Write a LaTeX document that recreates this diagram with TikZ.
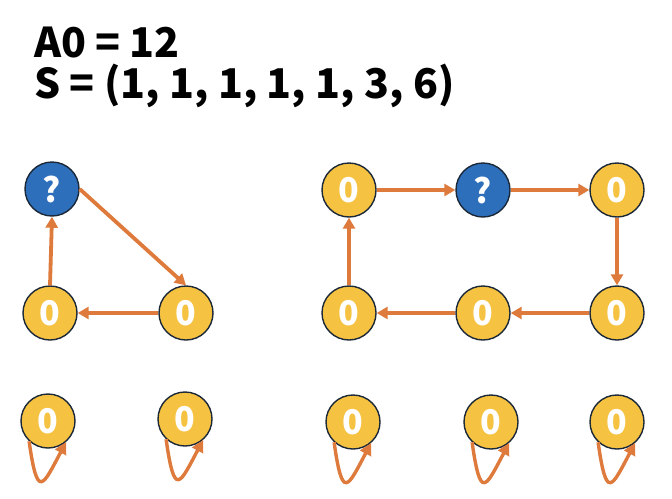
\documentclass[tikz,border=0pt]{standalone}
\usepackage{fontspec}
\setmainfont{Noto Sans CJK JP}
\usetikzlibrary{arrows.meta}
\definecolor{nodeyellow}{HTML}{F5C242}
\definecolor{nodeblue}{HTML}{2E6FBC}
\definecolor{edgeorange}{HTML}{DD7A3C}
\definecolor{rimnavy}{HTML}{1B2838}
\tikzset{
  zero/.style={circle, minimum size=54pt, inner sep=0pt, draw=rimnavy, line width=1.4pt,
    fill=nodeyellow, text=white, font=\fontsize{34}{34}\selectfont\bfseries},
  unknown/.style={zero, fill=nodeblue},
  title/.style={anchor=base west, inner sep=0pt, font=\fontsize{41}{41}\selectfont\bfseries},
  arr/.style={draw=edgeorange, line width=3.8pt, -{Triangle[length=11pt,width=12pt]}},
  selfloop/.style={arr, line width=3.4pt, -{Triangle[length=12pt,width=12pt]}}
}
\begin{document}
\begin{tikzpicture}[x=1pt, y=-1pt]
    \useasboundingbox (0,0) rectangle (672,498);
    \node[title] (a0) at (34,57) {A0 = 12};
    \node[title] (s) at (34,98) {S = (1, 1, 1, 1, 1, 3, 6)};

    \node[unknown] (tq) at (52,189) {?};
    \node[zero] (tl) at (50,313) {0};
    \node[zero] (tr) at (186,313) {0};
    \draw[arr] (tq.east) -- (tr.north);
    \draw[arr] (tr.west) -- (tl.east);
    \draw[arr] (tl.north) -- (tq.south);

    \node[zero] (r1) at (349,190) {0};
    \node[unknown] (r2) at (483,190) {?};
    \node[zero] (r3) at (617,190) {0};
    \node[zero] (r4) at (349,313) {0};
    \node[zero] (r5) at (483,313) {0};
    \node[zero] (r6) at (617,313) {0};
    \draw[arr] (r1.east) -- (r2.west);
    \draw[arr] (r2.east) -- (r3.west);
    \draw[arr] (r3.south) -- (r6.north);
    \draw[arr] (r6.west) -- (r5.east);
    \draw[arr] (r5.west) -- (r4.east);
    \draw[arr] (r4.north) -- (r1.south);

    \foreach \n/\x/\y in {s1/48/421, s2/185/419, s3/353/422, s4/491/422, s5/617/422} {
        \node[zero] (\n) at (\x,\y) {0};
        \draw[selfloop] (\n.227) .. controls +(82:60) and +(118:50) .. (\n.-49);
    }
\end{tikzpicture}
\end{document}
